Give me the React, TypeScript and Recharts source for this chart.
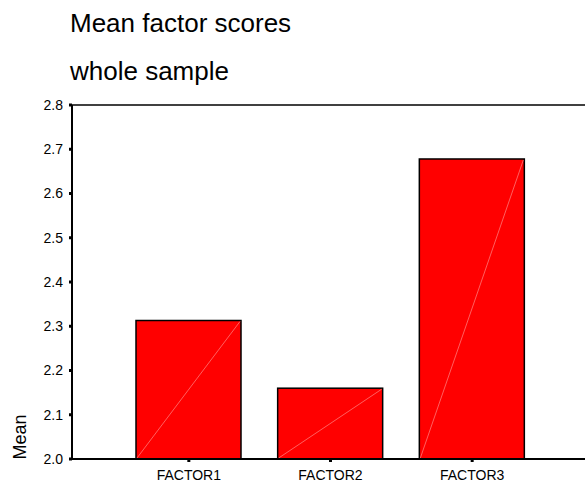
import React from "react";
import { BarChart, Bar, XAxis, YAxis, ReferenceLine } from "recharts";

const factors = ["FACTOR1", "FACTOR2", "FACTOR3"];
const means = [2.313, 2.16, 2.678];
const yTicks = [2.0, 2.1, 2.2, 2.3, 2.4, 2.5, 2.6, 2.7, 2.8];
const titleLines = ["Mean factor scores", "whole sample"];
const yLabel = "Mean";

const data = factors.map((f, i) => ({ factor: f, mean: means[i] }));

const FONT = "'Liberation Sans', Arial, sans-serif";

// red box with the faint diagonal seen on the old SPSS output
const SpssBar = (props: any) => {
  const { x, y, width, height } = props;
  if (!width || !height) return null;
  return (
    <g>
      <rect x={x} y={y} width={width} height={height} fill="#ff0000" stroke="#000" strokeWidth={1.5} />
      <line x1={x + 1} y1={y + height - 1} x2={x + width - 1} y2={y + 1} stroke="#ffa0a0" strokeWidth={0.6} />
    </g>
  );
};

export default function App() {
  return (
    <div
      style={{
        position: "absolute",
        left: 0,
        top: 0,
        width: 585,
        height: 482,
        overflow: "hidden",
        background: "#fff",
        fontFamily: FONT,
      }}
    >
      <BarChart width={585} height={482} data={data} margin={{ top: 105, right: 0, bottom: 0, left: 0 }}>
        <XAxis
          dataKey="factor"
          height={23}
          padding={{ left: 46, right: 42 }}
          axisLine={{ stroke: "#000", strokeWidth: 2 }}
          tickLine={{ stroke: "#000", strokeWidth: 3 }}
          tickSize={3}
          tickMargin={8}
          tick={{ fill: "#000", fontSize: 14, fontFamily: FONT }}
        />
        <YAxis
          width={72}
          domain={[2.0, 2.8]}
          ticks={yTicks}
          allowDataOverflow
          interval={0}
          tickFormatter={(v: number) => v.toFixed(1)}
          axisLine={{ stroke: "#000", strokeWidth: 2 }}
          tickLine={{ stroke: "#000", strokeWidth: 3 }}
          tickSize={3}
          tickMargin={6}
          tick={{ fill: "#000", fontSize: 14, fontFamily: FONT }}
        />
        <ReferenceLine y={2.8} stroke="#000" strokeWidth={1.5} />
        <Bar dataKey="mean" barSize={105} shape={SpssBar} isAnimationActive={false} />
      </BarChart>
      <svg
        width={585}
        height={482}
        style={{ position: "absolute", left: 0, top: 0, pointerEvents: "none" }}
      >
        <text x={70} y={32} fontSize={26} fontFamily={FONT} fill="#000">
          {titleLines[0]}
        </text>
        <text x={70} y={80} fontSize={26} fontFamily={FONT} fill="#000">
          {titleLines[1]}
        </text>
        <text
          transform="translate(26,437) rotate(-90)"
          textAnchor="middle"
          fontSize={18}
          fontFamily={FONT}
          fill="#000"
        >
          {yLabel}
        </text>
      </svg>
    </div>
  );
}
